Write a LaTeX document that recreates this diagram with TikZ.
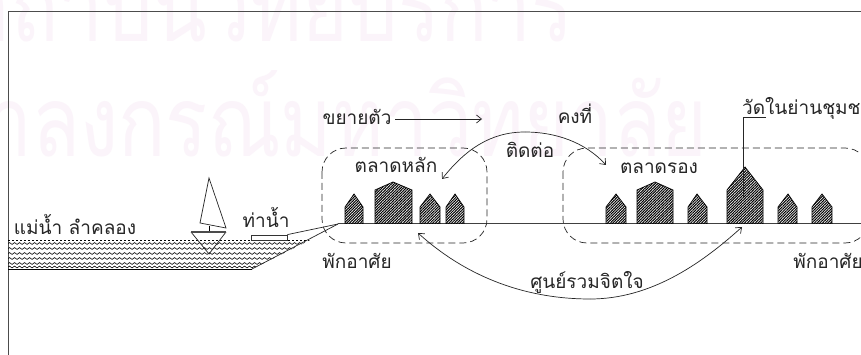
\documentclass[tikz,border=0pt]{standalone}
\usepackage{fontspec}
\newfontfamily\thaifont[Script=Thai]{Loma}
\usetikzlibrary{arrows.meta,patterns.meta,decorations.pathmorphing}
\definecolor{wm}{HTML}{FBF4FA}
\tikzset{
  lbl/.style={font=\thaifont\fontsize{19}{21}\selectfont,inner sep=0pt,text=black!85,anchor=base},
  wmark/.style={font=\thaifont\fontsize{98}{104}\selectfont,text=wm,inner sep=0pt,anchor=base east},
  conn/.style={draw=black!85,line width=0.7pt},
  arr/.style={conn,-{Straight Barb[length=5pt,width=8pt]}},
  zone/.style={draw=black!85,line width=0.7pt,dash pattern=on 7pt off 4pt,rounded corners=24pt},
  hatched/.style={pattern={Lines[angle=45,distance=1.9pt,line width=1.05pt]}},
  hutline/.style={draw=black,line width=0.7pt},
  wave/.style={draw=black,line width=0.6pt,decorate,decoration={snake,segment length=5pt,amplitude=0.9pt}},
}
\newcommand{\hut}[6]{%
  \path[hatched] (#1,#6) -- (#1,#4) -- (#3,#5) -- (#2,#4) -- (#2,#6) -- cycle;
  \draw[hutline] (#1,#6) -- (#1,#4) -- (#3,#5) -- (#2,#4) -- (#2,#6);
}
\begin{document}
\begin{tikzpicture}[x=1pt,y=-1pt]
\useasboundingbox (0,0) rectangle (861,355);
\fill[white] (0,0) rectangle (861,355);
% watermark
\node[wmark] (wmA) at (574,42) {\scalebox{0.8}[1]{สถาบันวิทยบริการ}};
\node[wmark] (wmB) at (708,157) {\scalebox{0.8}[1]{จุฬาลงกรณ์มหาวิทยาลัย}};
% frame
\draw[black!70,line width=1pt] (8,355) -- (8,12) -- (861,12);
% water
\begin{scope}
\clip (8,239) -- (312,239) -- (252,269) -- (8,269) -- cycle;
\draw[black,line width=0.7pt,dash pattern=on 1.5pt off 2.5pt] (8,240) -- (312,240);
\foreach \yy in {243.5,248.5,253.5,258.5,263.5,267}{
  \draw[wave] (8,\yy) -- (312,\yy);
}
\end{scope}
\draw[black,line width=0.9pt] (8,269) -- (252,269);
% boat
\draw[conn,fill=white] (209,178) -- (200,223) -- (226,228) -- cycle;
\draw[black,line width=1.2pt] (209.5,226) -- (209.5,232);
\draw[conn] (191,232) -- (209,254) -- (226,232);
\draw[black!70,line width=1.1pt] (191,232) -- (226,232);
% shore
\coordinate (shoreB) at (252,269);
\coordinate (shoreT) at (338,224);
\coordinate (groundE) at (861,224);
\draw[conn] (shoreB) -- (shoreT);
\draw[black!75,line width=1pt] (shoreT) -- (groundE);
% dock
\node[draw=black!80,fill=white,line width=0.8pt,minimum width=36pt,minimum height=5pt,inner sep=0pt] (dock) at (269,237.5) {};
\draw[conn] (dock.north east) -- (shoreT);
% zones
\draw[zone] (322,148) rectangle (487,243);
\draw[zone] (563,148) rectangle (869,243);
% houses
\hut{345}{363}{354}{207}{194}{224}
\hut{375}{412}{393}{190}{182}{224}
\hut{420}{440}{430}{207}{194}{224}
\hut{446}{464}{455}{207}{194}{224}
\hut{606}{626}{616}{207}{194}{224}
\hut{637}{673}{655}{190}{182}{224}
\hut{688}{707}{697}{207}{194}{224}
\hut{727}{763}{745}{190}{167}{224}
\hut{778}{797}{788}{207}{194}{224}
\hut{812}{832}{822}{207}{194}{224}
% labels
\node[lbl] (river) at (75,235) {แม่น้ำ ลำคลอง};
\node[lbl] (pier) at (266,228) {ท่าน้ำ};
\node[lbl] (expand) at (357,125) {ขยายตัว};
\node[lbl] (stable) at (575,124) {คงที่};
\node[lbl] (contact) at (530,158) {ติดต่อ};
\node[lbl] (mainm) at (396,173) {ตลาดหลัก};
\node[lbl] (secm) at (659,174) {ตลาดรอง};
\node[lbl] (resL) at (357,268) {พักอาศัย};
\node[lbl] (resR) at (828,268) {พักอาศัย};
\node[lbl] (spirit) at (587,288) {ศูนย์รวมจิตใจ};
\node[lbl,anchor=base west] (temple) at (742,115) {วัดในย่านชุมชน};
% connectors
\coordinate (expEnd) at (482,119);
\coordinate (expStart) at (395,119);
\draw[arr] (expStart) -- (expEnd);
\coordinate (leadA) at (766,117);
\coordinate (leadB) at (743,117);
\coordinate (leadC) at (743,197);
\draw[conn] (leadA) -- (leadB) -- (leadC);
\coordinate (upS) at (606,165);
\coordinate (upM) at (525,132);
\coordinate (upE) at (442,179);
\draw[arr] (upM) .. controls (555,132) and (585,142) .. (upS);
\draw[arr] (upM) .. controls (490,132) and (465,150) .. (upE);
\coordinate (loS) at (418,233);
\coordinate (loM) at (590,299);
\coordinate (loE) at (742,227);
\draw[arr] (loM) .. controls (650,299) and (700,265) .. (loE);
\draw[arr] (loM) .. controls (530,299) and (470,280) .. (loS);
\end{tikzpicture}
\end{document}
